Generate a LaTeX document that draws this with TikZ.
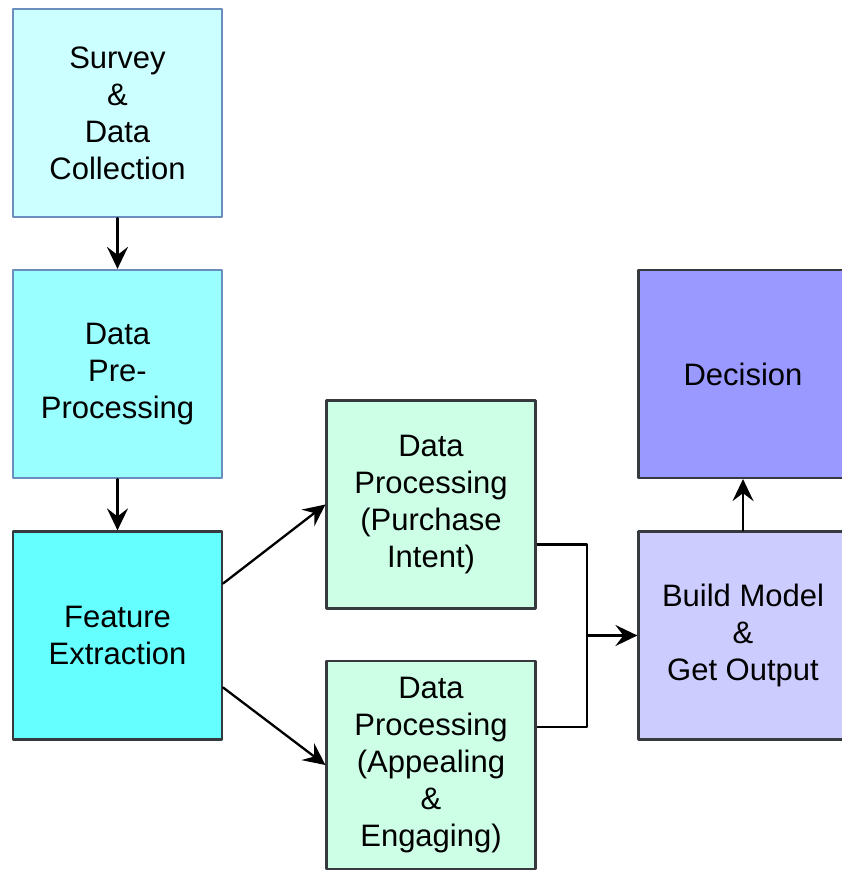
\documentclass[tikz,border=0pt]{standalone}
\usepackage{fontspec}
\setmainfont{Liberation Sans}
\usetikzlibrary{arrows.meta}
\definecolor{survfill}{HTML}{CCFFFF}
\definecolor{prefill}{HTML}{99FFFF}
\definecolor{featfill}{HTML}{66FFFF}
\definecolor{procfill}{HTML}{CCFFE6}
\definecolor{buildfill}{HTML}{CCCCFF}
\definecolor{decfill}{HTML}{9999FF}
\definecolor{blueline}{HTML}{6C8EBF}
\definecolor{darkline}{HTML}{36393D}
\begin{document}
\begin{tikzpicture}[line cap=round,line join=round,x=1pt,y=-1pt,
  >={Stealth[length=22pt,width=21pt,inset=8pt]},
  box/.style={draw=darkline,line width=2.2pt,minimum width=209pt,minimum height=208pt,
    align=center,inner sep=0pt,font=\fontsize{31}{37}\selectfont},
  link/.style={draw=black,line width=2.3pt}]
\useasboundingbox (0,0) rectangle (842,870);
\clip (0,0) rectangle (842,870);
\node[box,draw=blueline,fill=survfill] (survey) at (117.5,113) {Survey\\\&\\Data\\Collection};
\node[box,draw=blueline,fill=prefill] (preproc) at (117.5,374) {Data\\Pre-\\Processing};
\node[box,fill=featfill] (feature) at (117.5,635.5) {Feature\\Extraction};
\node[box,fill=procfill] (purchase) at (431,504.5) {Data\\Processing\\(Purchase\\Intent)};
\node[box,fill=procfill] (appeal) at (431,765) {Data\\Processing\\(Appealing\\\&\\Engaging)};
\node[box,fill=buildfill] (build) at (743,635.5) {Build Model\\\&\\Get Output};
\node[box,fill=decfill] (decision) at (743,374) {Decision};
\coordinate (join) at (587,635.5);
\draw[link,->] (survey.south) -- (preproc.north);
\draw[link,->] (preproc.south) -- (feature.north);
\draw[link,->] ([yshift=52pt]feature.east) -- (purchase.west);
\draw[link,->] ([yshift=-52pt]feature.east) -- (appeal.west);
\draw[link,line cap=butt] ([yshift=-40pt]purchase.east) -| (join);
\draw[link,line cap=butt] ([yshift=38pt]appeal.east) -| (join);
\draw[link,->] (join) -- (build.west);
\draw[link,->] (build.north) -- (decision.south);
\end{tikzpicture}
\end{document}
